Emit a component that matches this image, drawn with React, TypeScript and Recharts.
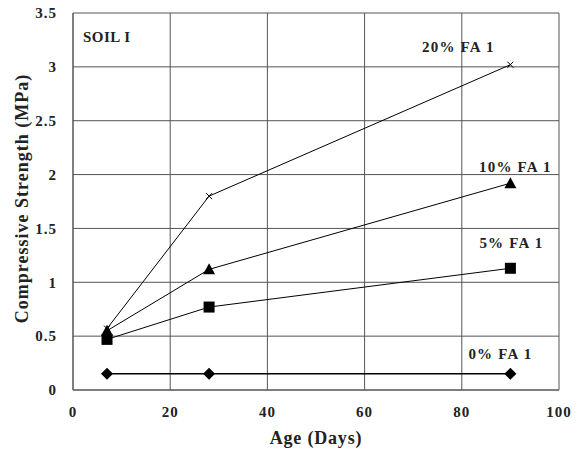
import { LineChart, Line, XAxis, YAxis, CartesianGrid, Label } from "recharts";

const ages = [7, 28, 90];
const fa0 = [0.15, 0.15, 0.15];
const fa5 = [0.47, 0.77, 1.13];
const fa10 = [0.55, 1.12, 1.92];
const fa20 = [0.57, 1.8, 3.02];
const xTicks = [0, 20, 40, 60, 80, 100];
const yTicks = [0, 0.5, 1, 1.5, 2, 2.5, 3, 3.5];

const data = ages.map((a, i) => ({ age: a, fa0: fa0[i], fa5: fa5[i], fa10: fa10[i], fa20: fa20[i] }));

const FONT = "Times New Roman, Liberation Serif, DejaVu Serif, serif";

const Cross = (props: any) => {
  const { cx, cy } = props;
  return (
    <path d={`M${cx - 3},${cy - 3}L${cx + 3},${cy + 3}M${cx - 3},${cy + 3}L${cx + 3},${cy - 3}`} stroke="#000" strokeWidth={1} />
  );
};
const Tri = (props: any) => {
  const { cx, cy } = props;
  return <path d={`M${cx},${cy - 6}L${cx + 6},${cy + 5}L${cx - 6},${cy + 5}Z`} fill="#000" />;
};
const Sq = (props: any) => {
  const { cx, cy } = props;
  return <rect x={cx - 5.5} y={cy - 5.5} width={11} height={11} fill="#000" />;
};
const Dia = (props: any) => {
  const { cx, cy } = props;
  return <path d={`M${cx},${cy - 6}L${cx + 6},${cy}L${cx},${cy + 6}L${cx - 6},${cy}Z`} fill="#000" />;
};

// end-of-line label, only at the last point
const endLabel = (text: string, dx: number, dy: number) => (props: any) => {
  const { x, y, index } = props;
  if (index !== ages.length - 1) return null;
  return (
    <text x={x + dx} y={y + dy} textAnchor="middle" style={{ fontFamily: FONT, fontWeight: "bold", fontSize: 15, letterSpacing: 1.2 }} fill="#222">
      {text}
    </text>
  );
};

const tickStyle = { fontFamily: FONT, fontWeight: "bold", fontSize: 15, letterSpacing: 1, fill: "#222" } as any;

export default function App() {
  return (
    <div style={{ position: "absolute", left: 0, top: 0, background: "#fff" }}>
      <LineChart width={579} height={454} data={data} margin={{ top: 13, right: 20, left: 13, bottom: 24 }}>
        <CartesianGrid stroke="#555" strokeWidth={1} horizontalValues={yTicks} verticalValues={xTicks} />
        <XAxis
          dataKey="age"
          type="number"
          domain={[0, 100]}
          ticks={xTicks}
          tick={tickStyle}
          tickLine={false}
          axisLine={{ stroke: "#555" }}
          height={40}
          tickMargin={10}
        >
          <Label value="Age (Days)" position="insideBottom" offset={-14} style={{ fontFamily: FONT, fontWeight: "bold", fontSize: 18, letterSpacing: 0.8, fill: "#222" }} />
        </XAxis>
        <YAxis
          type="number"
          domain={[0, 3.5]}
          ticks={yTicks}
          tick={tickStyle}
          tickLine={false}
          axisLine={{ stroke: "#555" }}
          width={60}
          tickMargin={10}
        >
          <Label value="Compressive Strength (MPa)" angle={-90} position="insideLeft" offset={9} dy={-3} style={{ textAnchor: "middle", fontFamily: FONT, fontWeight: "bold", fontSize: 18, letterSpacing: 1, fill: "#222" }} />
        </YAxis>
        <Line dataKey="fa20" stroke="#000" strokeWidth={1} dot={<Cross />} isAnimationActive={false} label={endLabel("20% FA 1", -52, -13)} />
        <Line dataKey="fa10" stroke="#000" strokeWidth={1} dot={<Tri />} isAnimationActive={false} label={endLabel("10% FA 1", 5, -11)} />
        <Line dataKey="fa5" stroke="#000" strokeWidth={1} dot={<Sq />} isAnimationActive={false} label={endLabel("5% FA 1", 1, -20)} />
        <Line dataKey="fa0" stroke="#000" strokeWidth={1.5} dot={<Dia />} isAnimationActive={false} label={endLabel("0% FA 1", -10, -15)} />
        <text x={83} y={42} style={{ fontFamily: FONT, fontWeight: "bold", fontSize: 15, letterSpacing: 0.5 }} fill="#222">SOIL I</text>
      </LineChart>
    </div>
  );
}
